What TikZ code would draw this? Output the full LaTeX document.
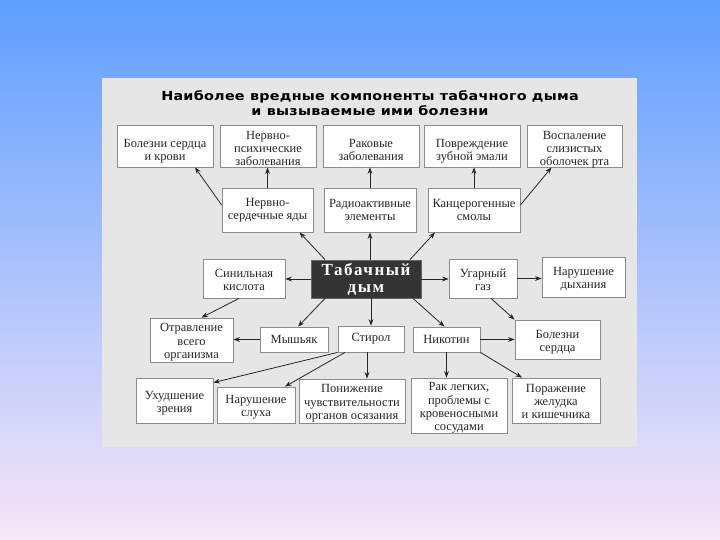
\documentclass[tikz,border=0pt]{standalone}
\usepackage{fontspec}
\setmainfont{Liberation Serif}
\newfontfamily\titlefont[FakeStretch=1.15,LetterSpace=2]{DejaVu Sans}
\newfontfamily\tabfont[LetterSpace=9]{Liberation Serif}
\usetikzlibrary{arrows.meta}
\definecolor{bgtop}{RGB}{94,158,255}
\definecolor{bgmid}{RGB}{168,200,242}
\definecolor{bgbot}{RGB}{248,230,248}
\definecolor{panel}{RGB}{230,230,230}
\definecolor{darkbox}{RGB}{52,52,52}
\newcommand\lowered[2]{\raisebox{-#1}[\height][\depth]{\begin{tabular}{@{}c@{}}#2\end{tabular}}}
\begin{document}
\begin{tikzpicture}[x=1pt,y=-1pt,
  box/.style={draw=black!45, fill=white, line width=0.8pt, align=center, inner sep=1pt,
    font=\fontsize{12.5}{13.2}\selectfont, text=black!85},
  arr/.style={-{Stealth[length=6.5pt,width=4.8pt]}, line width=0.8pt, draw=black!85}]
\shade[top color=bgtop, middle color=bgmid, bottom color=bgbot] (0,0) rectangle (720,540);
\useasboundingbox (0,0) rectangle (720,540);
\fill[panel] (102,78) rectangle (637,447);
\node[font=\titlefont\bfseries\fontsize{12.5}{15}\selectfont, align=center, inner sep=0pt] (title) at (370,103)
  {Наиболее вредные компоненты табачного дыма\\и вызываемые ими болезни};
% top row
\node[box, minimum width=96pt, minimum height=42pt] (b1) at (165,146) {\lowered{5pt}{Болезни сердца\\и крови}};
\node[box, minimum width=96pt, minimum height=42pt] (b2) at (268,146) {\lowered{4pt}{Нервно-\\психические\\заболевания}};
\node[box, minimum width=96pt, minimum height=42pt] (b3) at (371,146) {\lowered{5pt}{Раковые\\заболевания}};
\node[box, minimum width=96pt, minimum height=42pt] (b4) at (472,146) {\lowered{5pt}{Повреждение\\зубной эмали}};
\node[box, minimum width=95pt, minimum height=42pt] (b5) at (574.5,146) {\lowered{4pt}{Воспаление\\слизистых\\оболочек рта}};
% second row
\node[box, minimum width=91pt, minimum height=44pt] (n1) at (267.5,210) {Нервно-\\сердечные яды};
\node[box, minimum width=92pt, minimum height=44pt] (n2) at (370,210) {Радиоактивные\\элементы};
\node[box, minimum width=92pt, minimum height=44pt] (n3) at (474,210) {Канцерогенные\\смолы};
% middle row
\node[box, minimum width=82pt, minimum height=39pt] (sin) at (244,278.5) {\lowered{2.5pt}{Синильная\\кислота}};
\node[draw=black!60, fill=darkbox, line width=0.8pt, minimum width=110pt, minimum height=38pt, align=center, inner sep=0pt,
  text=white, font=\tabfont\bfseries\fontsize{17}{17}\selectfont] (tab) at (366,279) {Табачный\\дым};
\node[box, minimum width=68pt, minimum height=39pt] (ug) at (483,278.5) {\lowered{2.5pt}{Угарный\\газ}};
\node[box, minimum width=83pt, minimum height=40pt] (nd) at (583.5,277) {\lowered{2.5pt}{Нарушение\\дыхания}};
% fourth row
\node[box, minimum width=83pt, minimum height=44pt] (otr) at (191.5,340) {\lowered{2.5pt}{Отравление\\всего\\организма}};
\node[box, minimum width=68pt, minimum height=25pt] (mysh) at (294,339.5) {Мышьяк};
\node[box, minimum width=66pt, minimum height=26pt] (stir) at (371,339) {Стирол};
\node[box, minimum width=67pt, minimum height=25pt] (nik) at (446.5,339.5) {Никотин};
\node[box, minimum width=85pt, minimum height=39pt] (bs) at (557.5,339.5) {\lowered{2.5pt}{Болезни\\сердца}};
% bottom row
\node[box, minimum width=77pt, minimum height=45pt] (uh) at (174.5,400.5) {\lowered{2.5pt}{Ухудшение\\зрения}};
\node[box, minimum width=78pt, minimum height=36pt] (ns) at (256,405) {\lowered{2.5pt}{Нарушение\\слуха}};
\node[box, minimum width=106pt, minimum height=44pt] (pon) at (352,401) {\lowered{2.5pt}{Понижение\\чувствительности\\органов осязания}};
\node[box, minimum width=96pt, minimum height=55pt] (rak) at (459,405.5) {\lowered{2.5pt}{Рак легких,\\проблемы с\\кровеносными\\сосудами}};
\node[box, minimum width=88pt, minimum height=45pt] (por) at (556,400.5) {\lowered{2.5pt}{Поражение\\желудка\\и кишечника}};
% arrows
\draw[arr] ([yshift=5pt]n1.west) -- ([xshift=30pt]b1.south);
\draw[arr] (n1.north) -- (n1.north |- b2.south);
\draw[arr] (n2.north) -- (n2.north |- b3.south);
\draw[arr] (n3.north) -- (n3.north |- b4.south);
\draw[arr] ([yshift=5pt]n3.east) -- ([xshift=-23pt]b5.south);
\draw[arr] ([xshift=-41pt]tab.north) -- ([xshift=32pt]n1.south);
\draw[arr] (n2.south |- tab.north) -- (n2.south);
\draw[arr] ([xshift=44pt]tab.north) -- ([xshift=-39pt]n3.south);
\draw[arr] (tab.west) -- (tab.west -| sin.east);
\draw[arr] (tab.east) -- (tab.east -| ug.west);
\draw[arr] (ug.east) -- (ug.east -| nd.west);
\draw[arr] ([xshift=-5pt]sin.south) -- ([xshift=10pt]otr.north);
\draw[arr] ([xshift=-41pt]tab.south) -- ([xshift=4pt]mysh.north);
\draw[arr] (stir.north |- tab.south) -- (stir.north);
\draw[arr] ([xshift=47pt]tab.south) -- ([xshift=-2pt]nik.north);
\draw[arr] ([xshift=8pt]ug.south) -- ([xshift=-43pt]bs.north);
\draw[arr] (mysh.west) -- (mysh.west -| otr.east);
\draw[arr] (nik.east) -- (nik.east -| bs.west);
\draw[arr] (stir.south west) -- ([yshift=-5pt]uh.north east);
\draw[arr] ([xshift=-26pt]stir.south) -- ([xshift=29pt]ns.north);
\draw[arr] ([xshift=-4pt]stir.south) -- ([xshift=-4pt]stir.south |- pon.north);
\draw[arr] (nik.south) -- (nik.south |- rak.north);
\draw[arr] (nik.south east) -- ([xshift=-34pt]por.north);
\end{tikzpicture}
\end{document}
